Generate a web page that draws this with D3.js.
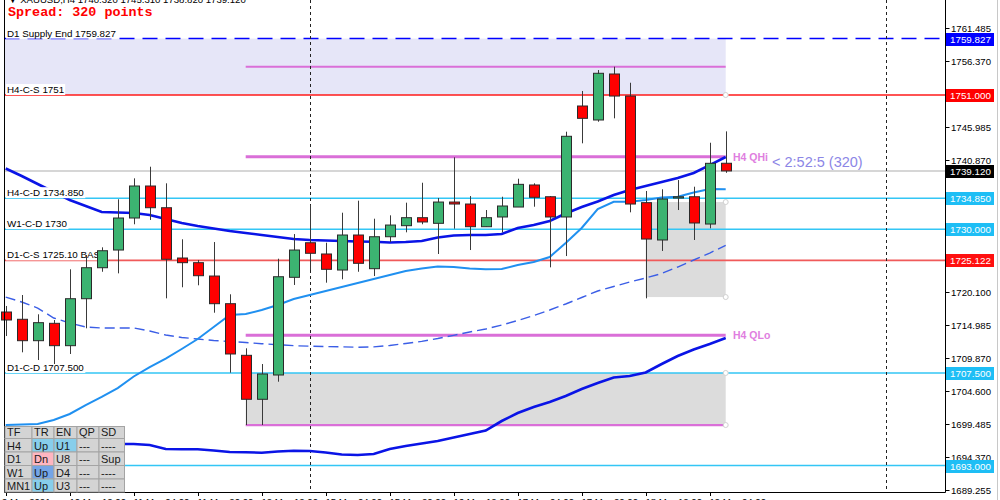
<!DOCTYPE html>
<html><head><meta charset="utf-8">
<script src="https://cdn.jsdelivr.net/npm/d3@7"></script>
<style>body{margin:0;background:#fff;overflow:hidden}svg{display:block}</style>
</head><body><svg id="c" width="1000" height="500"></svg>
<script>
// ---------- DATA ----------
const opens  = [1717.04,1715.90,1712.55,1715.27,1711.77,1719.12,1723.97,1726.74,1731.75,1736.76,1733.36,1725.49,1724.76,1722.67,1718.34,1710.26,1703.38,1707.18,1722.47,1727.88,1726.12,1723.61,1729.09,1723.82,1728.82,1730.55,1731.80,1730.92,1734.25,1733.94,1730.39,1731.91,1733.47,1736.92,1735.08,1731.91,1749.28,1747.09,1754.29,1750.84,1734.15,1728.31,1734.88,1735.08,1730.81,1740.32];
const highs  = [1717.98,1719.70,1716.68,1715.79,1723.72,1725.96,1727.16,1734.68,1737.96,1739.78,1737.18,1728.42,1725.18,1727.99,1719.81,1711.36,1708.90,1725.38,1729.24,1733.79,1727.88,1732.58,1734.46,1731.64,1732.17,1734.15,1737.27,1734.88,1741.25,1735.19,1733.00,1735.08,1737.90,1737.18,1735.19,1745.26,1751.63,1754.91,1755.43,1752.92,1735.98,1736.24,1737.69,1736.65,1743.53,1745.31];
const lows   = [1713.28,1710.73,1709.53,1708.90,1710.47,1714.49,1723.34,1723.09,1730.77,1731.44,1719.18,1720.91,1721.22,1716.93,1707.54,1699.35,1699.35,1706.13,1721.27,1723.61,1721.63,1722.16,1723.34,1722.67,1727.99,1729.51,1730.77,1726.12,1730.08,1726.74,1730.39,1729.51,1733.47,1733.52,1724.03,1725.80,1743.44,1746.82,1747.35,1732.64,1719.18,1726.59,1733.00,1728.31,1730.14,1738.82];
const closes = [1715.79,1712.55,1715.37,1711.77,1719.12,1723.97,1726.63,1731.75,1736.76,1733.36,1725.29,1724.76,1722.72,1718.34,1710.47,1703.38,1707.34,1722.56,1726.74,1726.23,1723.72,1729.09,1724.66,1728.82,1730.65,1731.80,1731.13,1734.25,1733.94,1730.39,1731.80,1733.63,1737.02,1734.99,1731.91,1744.54,1747.35,1754.40,1750.84,1733.94,1728.46,1734.72,1735.08,1730.97,1740.31,1739.12];

const maFast = [1739.50,1738.32,1737.07,1735.82,1734.57,1733.63,1732.69,1732.61,1732.53,1732.22,1731.59,1730.97,1730.50,1730.11,1729.72,1729.40,1729.09,1728.78,1728.46,1728.31,1728.23,1728.15,1728.07,1728.04,1727.92,1727.99,1728.15,1728.70,1729.01,1729.09,1729.09,1729.25,1730.18,1730.65,1731.28,1732.45,1733.47,1734.33,1735.35,1736.13,1736.76,1737.38,1738.01,1738.79,1740.04,1741.30];
const maMid  = [1699.36,1699.43,1699.51,1700.14,1701.08,1702.48,1703.74,1705.14,1706.95,1708.43,1709.76,1711.25,1712.81,1714.69,1716.57,1716.73,1717.35,1718.13,1719.07,1719.70,1720.33,1720.95,1721.58,1722.20,1722.83,1723.46,1723.85,1724.16,1724.08,1723.85,1723.72,1723.77,1724.39,1724.86,1725.65,1727.84,1730.19,1733.16,1734.30,1734.30,1734.57,1734.96,1735.07,1735.74,1736.29,1736.24];
const maDash = [1719.38,1718.60,1717.66,1716.10,1715.32,1714.69,1714.54,1714.54,1714.54,1714.07,1713.44,1713.05,1712.81,1712.58,1712.42,1712.27,1712.08,1711.92,1711.77,1711.69,1711.62,1711.59,1711.53,1711.59,1711.80,1712.11,1712.45,1712.89,1713.39,1713.91,1714.38,1715.00,1715.71,1716.49,1717.35,1718.29,1719.31,1720.33,1721.03,1721.73,1722.36,1723.07,1724.08,1725.18,1726.27,1727.45];
const maLow  = [1696.54,1696.54,1696.54,1696.46,1696.38,1696.38,1696.38,1696.38,1696.38,1696.23,1695.60,1695.55,1695.55,1695.37,1695.13,1695.08,1695.02,1695.21,1695.33,1695.29,1695.05,1694.74,1694.66,1694.82,1695.60,1696.07,1696.46,1696.85,1697.40,1697.95,1698.49,1699.98,1701.23,1702.17,1702.95,1703.89,1704.99,1705.93,1706.79,1707.02,1707.57,1708.90,1710.15,1711.17,1712.03,1712.97];

const timeTickIdx = [0,4,8,12,16,20,24,28,32,36,40,44];
const timeLabels  = ["9 Mar 2021","10 Mar 12:00","11 Mar 04:00","11 Mar 20:00","12 Mar 12:00","15 Mar 04:00","15 Mar 20:00","16 Mar 12:00","17 Mar 04:00","17 Mar 20:00","18 Mar 12:00","19 Mar 04:00"];
const priceTicks  = [1761.485,1756.370,1745.985,1740.870,1720.100,1714.985,1709.870,1704.600,1699.485,1694.370,1689.255];
const separatorIdx = [19,55];

const levelValues = [1759.827,1751.000,1734.850,1730.000,1725.122,1707.500,1693.000];
const levelLabels = ["D1 Supply End 1759.827","H4-C-S 1751","H4-C-D 1734.850","W1-C-D 1730","D1-C-S 1725.10 BASE","D1-C-D 1707.500",""];
const bidPrice = 1739.12;
const qHigh = 1741.34, qLow = 1713.39, rangeHigh = 1755.43, rangeLow = 1699.35;
const zoneStartIdx = 15, zoneEndIdx = 45, box1StartIdx = 40;
const box1Top = 1734.25, box1Bottom = 1719.38;
const supplyTop = 1759.827, supplyBottom = 1751.0;

const tableHeader = ["TF","TR","EN","QP","SD"];
const tableRows = [["H4","Up","U1","---","----"],["D1","Dn","U8","---","Sup"],["W1","Up","D4","---","----"],["MN1","Up","U3","---","----"]];

// ---------- SCALES ----------
const svg = d3.select("#c");
const FONT = "'Liberation Sans', Arial, sans-serif";
const L = 4.5, R = 945.5, B = 492;
const x = d3.scaleLinear().domain([0,10]).range([5.7,165.7]);
const y = d3.scaleLinear().domain([1688.87,1765.87]).range([492,0]);

const plot = svg.append("g");
// zones
plot.append("rect").attr("x",L).attr("y",y(supplyTop)).attr("width",x(zoneEndIdx)-L).attr("height",y(supplyBottom)-y(supplyTop)).attr("fill","#E6E6F8");
plot.append("rect").attr("x",x(box1StartIdx)).attr("y",y(box1Top)).attr("width",x(zoneEndIdx)-x(box1StartIdx)).attr("height",y(box1Bottom)-y(box1Top)).attr("fill","#DCDCDC");
plot.append("rect").attr("x",x(zoneStartIdx)).attr("y",y(1707.5)).attr("width",x(zoneEndIdx)-x(zoneStartIdx)).attr("height",y(rangeLow)-y(1707.5)).attr("fill","#DCDCDC");

// level lines
const levelStyle = [
  {c:"#0000FF",w:1.5,d:"15,8",tag:"#0000FF"},
  {c:"#FF1A1A",w:1.3,d:null,tag:"#FF0000"},
  {c:"#33C6F5",w:1.5,d:null,tag:"#1EBEF5"},
  {c:"#33C6F5",w:1.5,d:null,tag:"#1EBEF5"},
  {c:"#F05A5A",w:1.8,d:null,tag:"#FF1010"},
  {c:"#33C6F5",w:1.5,d:null,tag:"#1EBEF5"},
  {c:"#33C6F5",w:1.5,d:null,tag:"#1EBEF5"}];
// bid line
plot.append("line").attr("x1",L).attr("x2",R).attr("y1",y(bidPrice)).attr("y2",y(bidPrice)).attr("stroke","#C8C8C8").attr("stroke-width",1.5);
levelValues.forEach((v,i)=>{
  const s = levelStyle[i];
  plot.append("line").attr("x1",L).attr("x2",R).attr("y1",y(v)).attr("y2",y(v))
    .attr("stroke",s.c).attr("stroke-width",s.w).attr("stroke-dasharray",s.d);
});
// magenta range lines
[[rangeHigh,2],[qHigh,3],[qLow,3],[rangeLow,2.2]].forEach(([v,w])=>{
  plot.append("line").attr("x1",x(zoneStartIdx)).attr("x2",x(zoneEndIdx)).attr("y1",y(v)).attr("y2",y(v)).attr("stroke","#DA6FD8").attr("stroke-width",w);
});
// separators
separatorIdx.forEach(i=>{
  plot.append("line").attr("x1",Math.round(x(i))+0.5).attr("x2",Math.round(x(i))+0.5).attr("y1",0).attr("y2",B).attr("stroke","#222").attr("stroke-width",1).attr("stroke-dasharray","3,3");
});

// MAs
const ln = d3.line().x((d,i)=>x(i)).y(d=>y(d));
plot.append("path").attr("d",ln(maDash)).attr("fill","none").attr("stroke","#3B5EE6").attr("stroke-width",1.4).attr("stroke-dasharray","10,5");
plot.append("path").attr("d",ln(maMid)).attr("fill","none").attr("stroke","#2090F0").attr("stroke-width",2);
plot.append("path").attr("d",ln(maFast)).attr("fill","none").attr("stroke","#0A14E6").attr("stroke-width",2.6);
plot.append("path").attr("d",ln(maLow)).attr("fill","none").attr("stroke","#0A14E6").attr("stroke-width",2.6);

// left labels with white background
const lab = plot.append("g");
levelValues.forEach((v,i)=>{
  if(!levelLabels[i]) return;
  const g = lab.append("g");
  const t = g.append("text").attr("x",7).attr("y",y(v)-2).attr("font-family",FONT).attr("font-size",9.8).attr("fill","#000").text(levelLabels[i]);
  const bb = t.node().getBBox();
  g.insert("rect","text").attr("x",bb.x-1).attr("y",bb.y).attr("width",bb.width+2).attr("height",bb.height).attr("fill","#fff");
});

// candles
const cg = plot.append("g");
opens.forEach((o,i)=>{
  const c = closes[i], cx = Math.round(x(i))+0.5;
  cg.append("line").attr("x1",cx).attr("x2",cx).attr("y1",y(highs[i])).attr("y2",y(lows[i])).attr("stroke","#3a3a3a").attr("stroke-width",1);
  const top = y(Math.max(o,c)), bot = y(Math.min(o,c));
  cg.append("rect").attr("x",cx-5).attr("y",top).attr("width",10).attr("height",Math.max(1,bot-top))
    .attr("fill", c>=o ? "#3CB371" : "#FF0000").attr("stroke","#2a2a2a").attr("stroke-width",1);
});

// handles
[supplyBottom,box1Top,box1Bottom,1707.5,rangeLow].forEach(v=>{
  plot.append("circle").attr("cx",x(zoneEndIdx)).attr("cy",y(v)).attr("r",2.5).attr("fill","#fff").attr("stroke","#d0d0d0");
});

// QHi / QLo labels, timer
plot.append("text").attr("x",733).attr("y",y(qHigh)+4).attr("font-family",FONT).attr("font-size",10.5).attr("font-weight","bold").attr("fill","#E07EE0").text("H4 QHi");
plot.append("text").attr("x",733).attr("y",y(qLow)+4).attr("font-family",FONT).attr("font-size",10.5).attr("font-weight","bold").attr("fill","#E07EE0").text("H4 QLo");
plot.append("text").attr("x",772).attr("y",y(bidPrice)-4).attr("font-family",FONT).attr("font-size",14.5).attr("fill","#8C86E6").text("< 2:52:5 (320)");

// ---------- AXES ----------
const ax = svg.append("g");
ax.append("line").attr("x1",R).attr("x2",R).attr("y1",0).attr("y2",B+0.5).attr("stroke","#000");
ax.append("line").attr("x1",L).attr("x2",L).attr("y1",0).attr("y2",B+0.5).attr("stroke","#000");
ax.append("line").attr("x1",L).attr("x2",R).attr("y1",B+0.5).attr("y2",B+0.5).attr("stroke","#000");
ax.append("line").attr("x1",997.5).attr("x2",997.5).attr("y1",0).attr("y2",500).attr("stroke","#c8c8c8");
priceTicks.forEach(v=>{
  const yy = Math.round(y(v))+0.5;
  ax.append("line").attr("x1",R).attr("x2",R+4).attr("y1",yy).attr("y2",yy).attr("stroke","#000");
  ax.append("text").attr("x",951).attr("y",yy+3.5).attr("font-family",FONT).attr("font-size",9.6).attr("fill","#000").text(v.toFixed(3));
});
function tag(v,bg){
  const yy = Math.round(y(v))+0.5;
  ax.append("rect").attr("x",946).attr("y",yy-6.5).attr("width",48).attr("height",13).attr("fill",bg);
  ax.append("text").attr("x",950).attr("y",yy+3.5).attr("font-family",FONT).attr("font-size",9.8).attr("fill","#fff").text(v.toFixed(3));
}
levelValues.forEach((v,i)=>tag(v,levelStyle[i].tag));
tag(bidPrice,"#000");

timeTickIdx.forEach((idx,k)=>{
  const xx = Math.round(x(idx))+0.5;
  ax.append("line").attr("x1",xx).attr("x2",xx).attr("y1",B).attr("y2",B+4).attr("stroke","#000");
  ax.append("text").attr("x",k===0?2:xx-1).attr("y",505).attr("font-family",FONT).attr("font-size",9.6).attr("fill","#000").text(timeLabels[k]);
});

// ---------- TABLE ----------
const colX = [5,32,54,77,99,124.5];
const rowY = [426.5,438.5,452,465.5,479,492];
const tg = svg.append("g");
const allRows = [tableHeader, ...tableRows];
const cellBg = (r,c,val)=>{
  if(r===0) return "#D4D4D4";
  if(c===1) return val==="Dn" ? "#FFB6C1" : (r===3 ? "#74A4E6" : "#87CEEB");
  if(c===2 && r===1) return "#87CEEB";
  return "#D4D4D4";
};
allRows.forEach((row,r)=>{
  row.forEach((val,c)=>{
    tg.append("rect").attr("x",colX[c]).attr("y",rowY[r]).attr("width",colX[c+1]-colX[c]).attr("height",rowY[r+1]-rowY[r])
      .attr("fill",cellBg(r,c,val)).attr("stroke","#A4A4A4").attr("stroke-width",1);
    tg.append("text").attr("x",colX[c]+2).attr("y",rowY[r+1]-2.5).attr("font-family",FONT).attr("font-size",11).attr("fill","#1a1a1a").text(val);
  });
});

// ---------- HEADER TEXT ----------
svg.append("text").attr("x",8).attr("y",2.5).attr("font-family",FONT).attr("font-size",9.6).attr("fill","#000").text("▼ XAUUSD,H4  1740.320 1745.310 1738.820 1739.120");
svg.append("text").attr("x",8).attr("y",16).attr("font-family","'Liberation Mono', 'Courier New', monospace").attr("font-size",13.4).attr("font-weight","bold").attr("fill","#FF0000").text("Spread: 320 points");
</script></body></html>
